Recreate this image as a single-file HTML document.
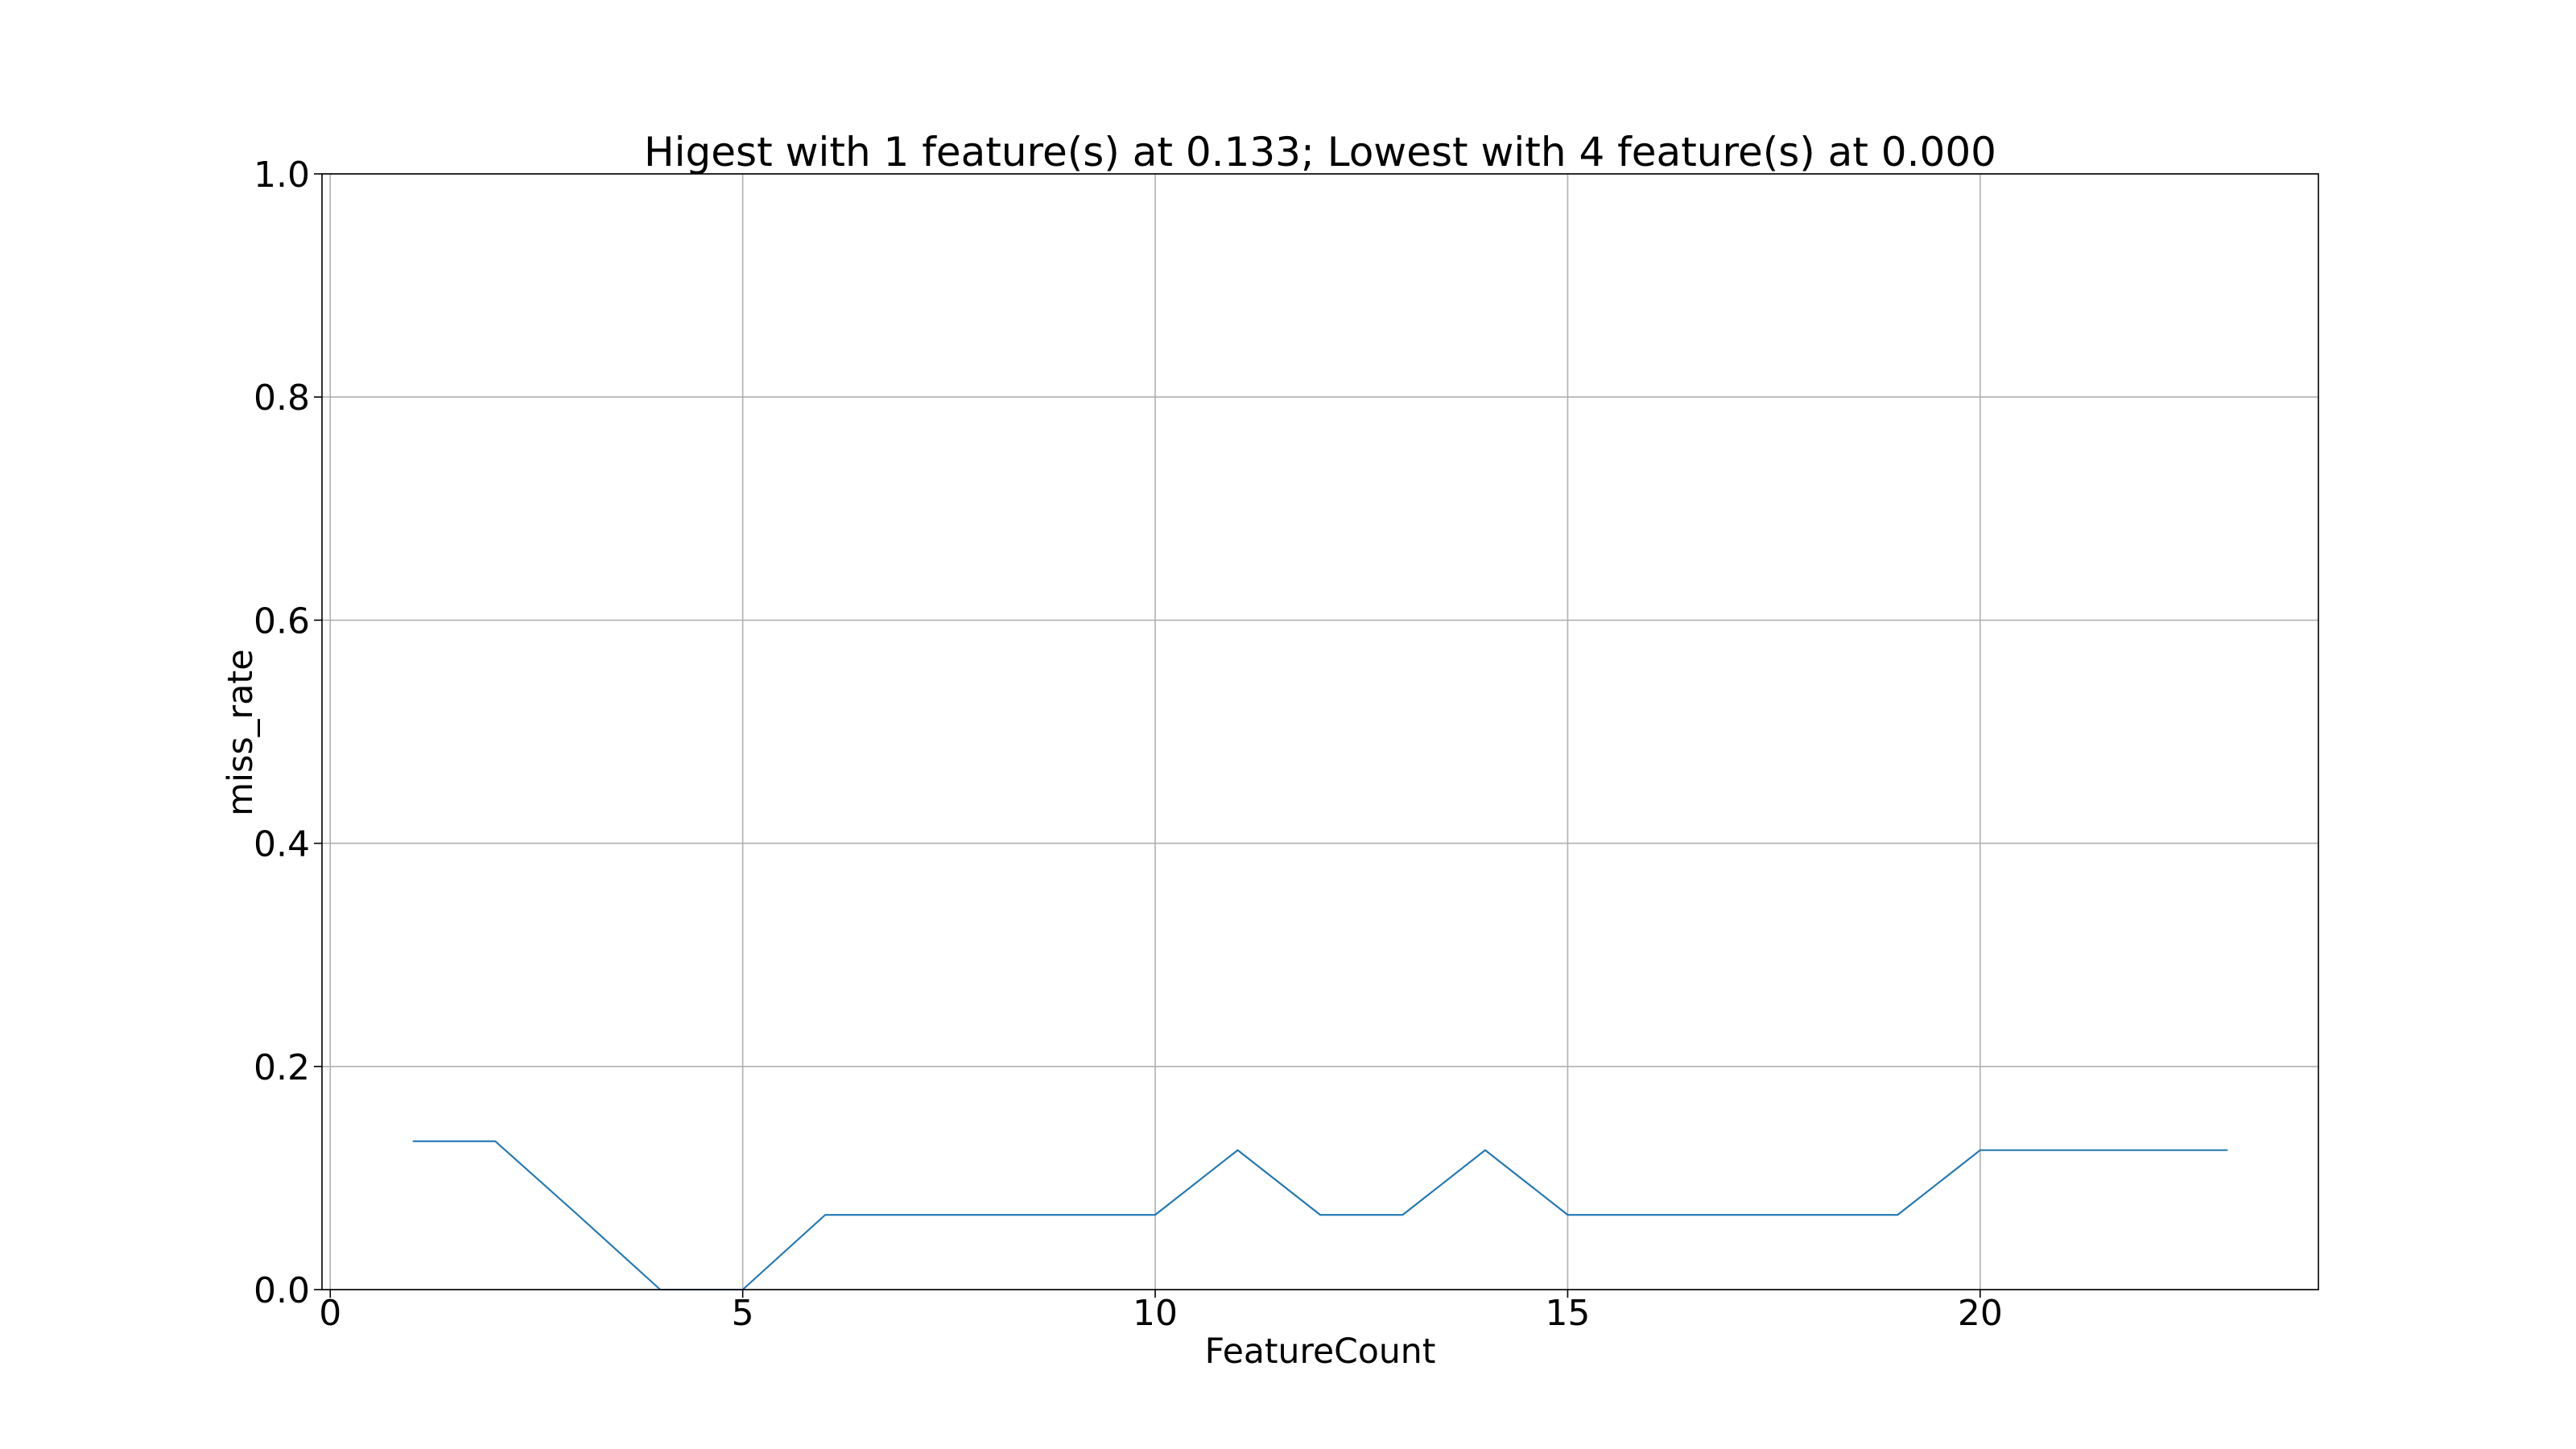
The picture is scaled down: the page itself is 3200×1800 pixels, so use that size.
<!DOCTYPE html>
<html><head><meta charset="utf-8"><style>
html,body{margin:0;padding:0;background:#fff;}
svg{display:block;font-family:"DejaVu Sans","Liberation Sans",sans-serif;}
</style></head><body>
<svg id="chart" width="3200" height="1800" viewBox="0 0 3200 1800">
<rect width="3200" height="1800" fill="#fff"/>
<g id="grid"></g>
<g id="series"></g>
<rect x="400" y="216" width="2480" height="1386" fill="none" stroke="#000" stroke-width="1.6"/>
<g id="ticks"></g>
<text x="1640" y="206" font-size="50" text-anchor="middle">Higest with 1 feature(s) at 0.133; Lowest with 4 feature(s) at 0.000</text>
<text x="1640" y="1693" font-size="42.5" text-anchor="middle">FeatureCount</text>
<text x="0" y="0" font-size="43" text-anchor="middle" transform="translate(313,910) rotate(-90)">miss_rate</text>
</svg>
<script>
const featureCounts = [1,2,3,4,5,6,7,8,9,10,11,12,13,14,15,16,17,18,19,20,21,22,23];
const missRates = [0.133,0.133,0.067,0,0,0.067,0.067,0.067,0.067,0.067,0.125,0.067,0.067,0.125,0.067,0.067,0.067,0.067,0.067,0.125,0.125,0.125,0.125];
const xTicks = [0,5,10,15,20];
const yTicks = [0,0.2,0.4,0.6,0.8,1.0];
const yTickLabels = ["0.0","0.2","0.4","0.6","0.8","1.0"];

const L=400,R=2880,T=216,B=1602;
const xMin=-0.1,xMax=24.1,yMin=0,yMax=1;
const sx=v=>L+(v-xMin)/(xMax-xMin)*(R-L);
const sy=v=>B-(v-yMin)/(yMax-yMin)*(B-T);
const NS="http://www.w3.org/2000/svg";
const grid=document.getElementById('grid'),ticks=document.getElementById('ticks'),series=document.getElementById('series');
function mk(tag,parent){const e=document.createElementNS(NS,tag);parent.appendChild(e);return e;}

xTicks.forEach(v=>{
  const x=sx(v);
  const g=mk('line',grid);
  
  
  g.setAttribute('x1',x);g.setAttribute('x2',x);g.setAttribute('y1',T);g.setAttribute('y2',B);
  g.setAttribute('stroke','#b0b0b0');g.setAttribute('stroke-width','1.6');
  const t=mk('line',ticks);
  
  
  t.setAttribute('x1',x);t.setAttribute('x2',x);t.setAttribute('y1',B);t.setAttribute('y2',B+10);
  t.setAttribute('stroke','#000');t.setAttribute('stroke-width','1.6');
  const l=mk('text',ticks);
  
  
  l.setAttribute('x',x);l.setAttribute('y',B+44);l.setAttribute('font-size','44');l.setAttribute('text-anchor','middle');
  l.textContent=String(v);
});
yTicks.forEach((v,i)=>{
  const y=sy(v);
  const g=mk('line',grid);
  
  
  g.setAttribute('x1',L);g.setAttribute('x2',R);g.setAttribute('y1',y);g.setAttribute('y2',y);
  g.setAttribute('stroke','#b0b0b0');g.setAttribute('stroke-width','1.6');
  const t=mk('line',ticks);
  
  
  t.setAttribute('x1',L-10);t.setAttribute('x2',L);t.setAttribute('y1',y);t.setAttribute('y2',y);
  t.setAttribute('stroke','#000');t.setAttribute('stroke-width','1.6');
  const l=mk('text',ticks);
  
  
  l.setAttribute('x',L-15);l.setAttribute('y',y+16);l.setAttribute('font-size','44');l.setAttribute('text-anchor','end');
  l.textContent=yTickLabels[i];
});
const p=mk('polyline',series);


p.setAttribute('points',featureCounts.map((f,i)=>sx(f)+','+sy(missRates[i])).join(' '));
p.setAttribute('fill','none');p.setAttribute('stroke','#1f77b4');p.setAttribute('stroke-width','2.1');
</script>
</body></html>
